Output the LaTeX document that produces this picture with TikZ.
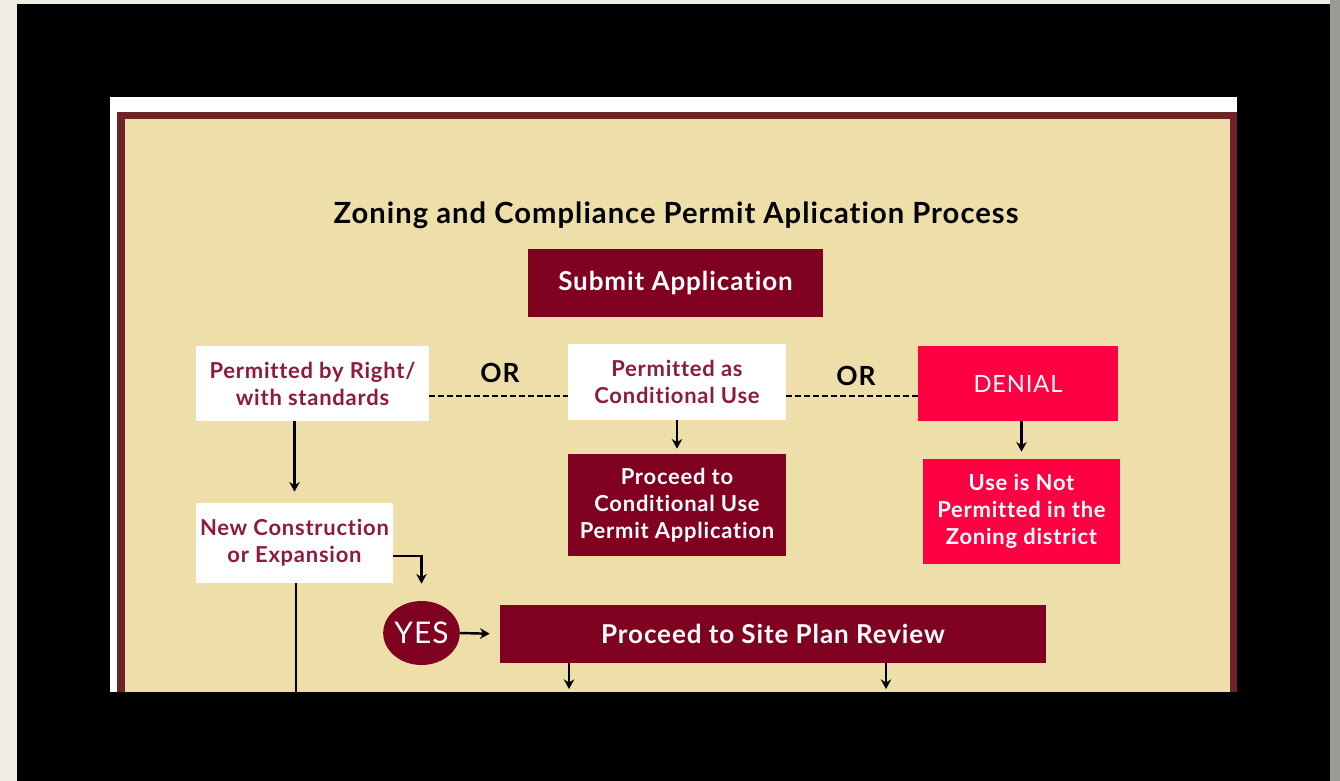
\documentclass[tikz,border=0pt]{standalone}
\usepackage{fontspec}
\setmainfont{Lato}[LetterSpace=3.5,Ligatures=NoCommon]
\usetikzlibrary{arrows.meta,shapes.geometric,positioning}
\definecolor{frameback}{HTML}{EFECE3}
\definecolor{frameedge}{HTML}{9A9A94}
\definecolor{beige}{HTML}{EEDEA9}
\definecolor{rim}{HTML}{6C2427}
\definecolor{wine}{HTML}{800020}
\definecolor{alert}{HTML}{FF0042}
\definecolor{winetext}{HTML}{8E1A3E}

\begin{document}
\begin{tikzpicture}[x=0.02cm,y=-0.02cm,
    box/.style={rectangle,inner sep=0pt,align=center,font=\bfseries\fontsize{12.5}{15.3}\selectfont},
    choice/.style={box,fill=white,text=winetext},
    stepbox/.style={box,fill=wine,text=white},
    denybox/.style={box,fill=alert,text=white},
    flow/.style={-{Stealth[length=5.5pt,width=6pt]},line width=1.4pt},
    orline/.style={line width=1.4pt,dash pattern=on 3.4pt off 1.7pt},
    orlabel/.style={font=\bfseries\fontsize{15}{17}\selectfont}]
    \useasboundingbox (0,0) rectangle (1340,781);
    % frame and page
    \fill[frameback] (0,0) rectangle (1340,781);
    \fill[frameedge] (1330,0) rectangle (1340,781);
    \fill[black] (17,4) rectangle (1330,781);
    \fill[white] (110,97) rectangle (1237,692);
    \fill[rim] (117,112) rectangle (1237,692);
    \fill[beige] (125,119) rectangle (1230,692);

    \node (title) at (676,215) {\bfseries\fontsize{16.6}{19}\selectfont Zoning and Compliance Permit Aplication Process};
    \node (submit) [stepbox,minimum width=5.9cm,minimum height=1.36cm,font=\bfseries\fontsize{14.8}{17}\selectfont] at (675.5,283) {Submit Application};

    \node (right) [choice,minimum width=4.66cm,minimum height=1.5cm] at (312.5,383.5) {Permitted by Right/\\with standards};
    \node (cond) [choice,minimum width=4.36cm,minimum height=1.52cm] at (677,382) {Permitted as\\Conditional Use};
    \node (denial) [denybox,minimum width=4cm,minimum height=1.5cm,font=\fontsize{13.5}{16}\selectfont] at (1018,383.5) {DENIAL};
    \node (or1) [orlabel] at (500,373) {OR};
    \node (or2) [orlabel] at (856,376) {OR};

    \node (proccond) [stepbox,minimum width=4.36cm,minimum height=2.04cm] at (677,505) {Proceed to\\Conditional Use\\Permit Application};
    \node (notperm) [denybox,minimum width=3.94cm,minimum height=2.1cm] at (1021.5,511.5) {Use is Not\\Permitted in the\\Zoning district};

    \node (newcon) [choice,minimum width=3.94cm,minimum height=1.6cm] at (294.5,543) {New Construction\\or Expansion};
    \node (yes) [ellipse,fill=wine,text=white,inner sep=0pt,minimum width=1.42cm,minimum height=1.28cm,font=\fontsize{17}{20}\selectfont] at (421.5,633) {YES};
    \node (site) [stepbox,minimum width=10.92cm,minimum height=1.16cm,font=\bfseries\fontsize{14.8}{17}\selectfont] at (773,634) {Proceed to Site Plan Review};

    \coordinate (dash1) at (429,396);
    \coordinate (bend) at (423,556);
    \coordinate (site1) at (569,689);
    \coordinate (site2) at (886,689);
    \coordinate (cut) at (296,692);

    \draw[orline] (dash1) -- (dash1 -| cond.west);
    \draw[orline] (cond.east |- dash1) -- (denial.west |- dash1);
    \draw[flow,shorten >=0.1cm] (cond.south) -- (proccond.north);
    \draw[flow,shorten >=0.14cm] (denial.south -| notperm.north) -- (notperm.north);
    \draw[flow,shorten >=0.22cm] (newcon.north |- right.south) -- (newcon.north);
    \draw[flow,shorten >=0.34cm] (newcon.east |- bend) -| (yes.north);
    \draw[flow,shorten >=0.2cm] (yes.east) -- (site.west);
    \draw[flow] (site.south -| site1) -- (site1);
    \draw[flow] (site.south -| site2) -- (site2);
    \draw[line width=1.4pt] (newcon.south -| cut) -- (cut);
\end{tikzpicture}
\end{document}
